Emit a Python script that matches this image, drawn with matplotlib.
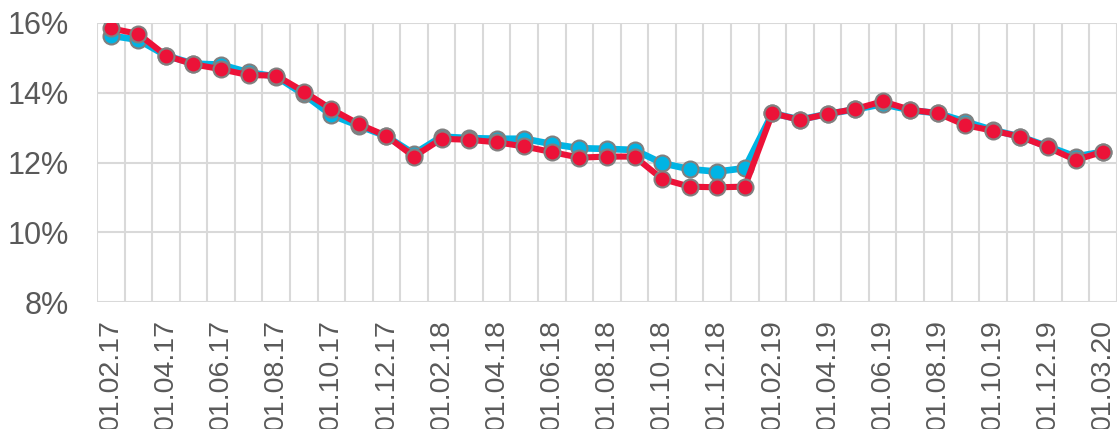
import matplotlib.pyplot as plt
from matplotlib.ticker import FixedLocator, PercentFormatter

plt.rcParams['font.family'] = ['Liberation Sans', 'DejaVu Sans']

# monthly categories (Jan 2020 is not in the source data)
months = ['01.02.17', '01.03.17', '01.04.17', '01.05.17', '01.06.17', '01.07.17',
          '01.08.17', '01.09.17', '01.10.17', '01.11.17', '01.12.17', '01.01.18',
          '01.02.18', '01.03.18', '01.04.18', '01.05.18', '01.06.18', '01.07.18',
          '01.08.18', '01.09.18', '01.10.18', '01.11.18', '01.12.18', '01.01.19',
          '01.02.19', '01.03.19', '01.04.19', '01.05.19', '01.06.19', '01.07.19',
          '01.08.19', '01.09.19', '01.10.19', '01.11.19', '01.12.19', '01.02.20',
          '01.03.20']

blue_vals = [15.63, 15.51, 15.06, 14.83, 14.80, 14.58, 14.46, 13.95, 13.36, 13.05,
             12.75, 12.25, 12.74, 12.70, 12.68, 12.68, 12.53, 12.41, 12.39, 12.36,
             11.98, 11.81, 11.74, 11.84, 13.41, 13.23, 13.39, 13.52, 13.67, 13.50,
             13.41, 13.17, 12.93, 12.74, 12.46, 12.17, 12.31]

red_vals = [15.84, 15.68, 15.06, 14.81, 14.67, 14.50, 14.49, 14.03, 13.53, 13.10,
            12.76, 12.17, 12.68, 12.65, 12.58, 12.46, 12.30, 12.14, 12.17, 12.17,
            11.53, 11.31, 11.29, 11.31, 13.41, 13.22, 13.39, 13.53, 13.75, 13.51,
            13.41, 13.07, 12.91, 12.74, 12.43, 12.07, 12.31]

x = list(range(len(months)))

fig = plt.figure(figsize=(11.2, 4.29), dpi=100)
ax = fig.add_axes([0.0866, 0.2953, 0.9107, 0.6517])

grid_col = '#D9D9D9'
edge_col = '#808080'

ax.plot(x, blue_vals, color='#00B4E4', lw=4.8, marker='o', ms=11.5,
        mfc='#00B4E4', mec=edge_col, mew=1.5, zorder=3)
ax.plot(x, red_vals, color='#EC1238', lw=4.4, marker='o', ms=11.5,
        mfc='#EC1238', mec=edge_col, mew=1.5, zorder=4)

ax.set_xlim(-0.5, len(months) - 0.5)
ax.set_ylim(8, 16)
ax.set_yticks([8, 10, 12, 14, 16])
ax.yaxis.set_major_formatter(PercentFormatter(decimals=0))

ax.set_xticks(x[::2])
ax.set_xticklabels(months[::2], rotation=90)
ax.xaxis.set_minor_locator(FixedLocator([i - 0.5 for i in range(len(months) + 1)]))

ax.grid(axis='y', which='major', color=grid_col, lw=1.5)
ax.grid(axis='x', which='minor', color=grid_col, lw=1.5)
ax.grid(axis='x', which='major', visible=False)
ax.set_axisbelow(True)

for s in ax.spines.values():
    s.set_visible(False)

ax.tick_params(axis='both', which='both', length=0, colors='#595959')
ax.tick_params(axis='y', labelsize=22, pad=20)
ax.tick_params(axis='x', labelsize=20.5, pad=12)

fig.savefig('out.png', dpi=100)
